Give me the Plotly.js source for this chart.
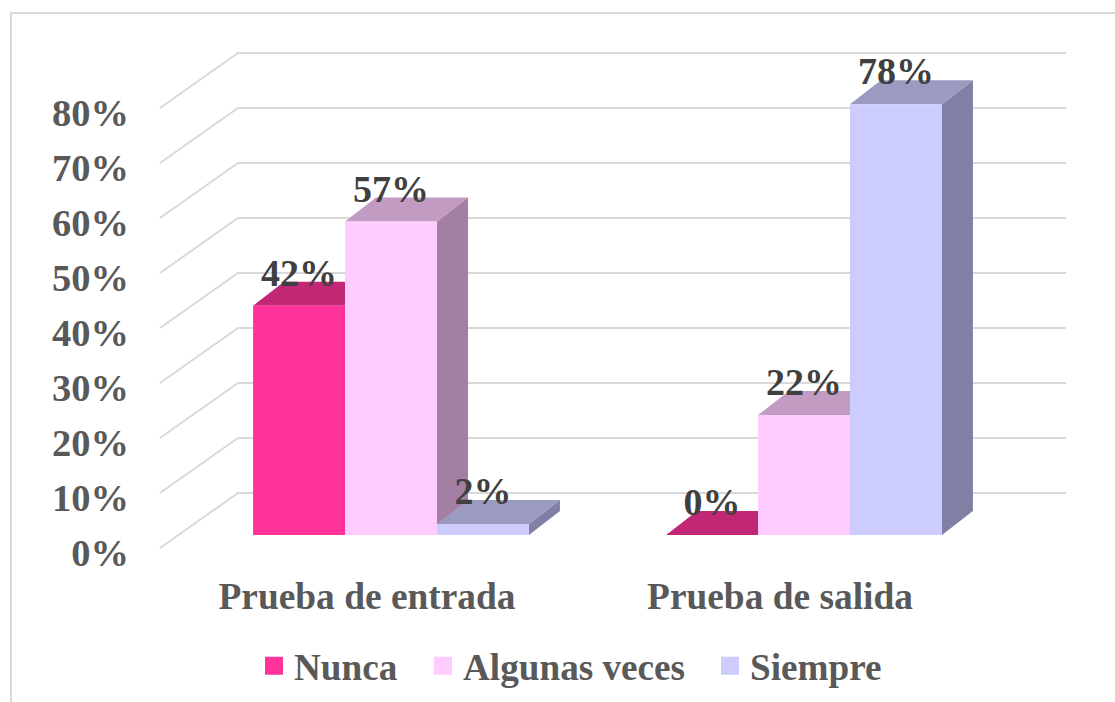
<!DOCTYPE html>
<html>
<head>
<meta charset="utf-8">
<script src="https://cdn.plot.ly/plotly-3.0.1.min.js"></script>
<style>html,body{margin:0;padding:0;background:#fff;overflow:hidden}</style>
</head>
<body>
<div id="chart" style="width:1115px;height:702px"></div>
<script>
var categories = ["Prueba de entrada", "Prueba de salida"];
var seriesNames = ["Nunca", "Algunas veces", "Siempre"];
var nunca = [41.7, 0];
var algunasVeces = [57, 21.8];
var siempre = [2, 78.3];
var yTicks = [0, 10, 20, 30, 40, 50, 60, 70, 80];

var seriesValues = [nunca, algunasVeces, siempre];
var frontColors = ["#FF3399", "#FFCCFF", "#CCCCFF"];
var topColors = ["#C22775", "#C29BC2", "#9B9BC2"];
var sideColors = ["#A51F63", "#A47FA4", "#8080A4"];
var groupPos = [1, 2];

// page geometry of the plot area
var PW = 1115, PH = 702;
var L = 140, R = 1100, T = 40, B = 560;
var pxPerGroup = 413, pxPerPct = 5.5;
var xRange = [1 + (L - 391) / pxPerGroup, 1 + (R - 391) / pxPerGroup];
var yRange = [(535 - B) / pxPerPct, (535 - T) / pxPerPct];
var labelYRange = [(553 - B) / pxPerPct, (553 - T) / pxPerPct];
var labelShift = 24 / pxPerGroup;
var bargap = 0.332, barW = (1 - bargap) / 3;
var depthX = 31 / pxPerGroup, depthY = 24 / pxPerPct;
var wallLeftFront = 1 + (160 - 391) / pxPerGroup, wallLeftBack = 1 + (238 - 391) / pxPerGroup;
var wallRight = 1 + (1066 - 391) / pxPerGroup;
var floorFront = (535 - 548) / pxPerPct, floorBack = (535 - 493) / pxPerPct;
var gridColor = "#D9D9D9";
var fontFam = '"Liberation Serif","Times New Roman",serif';

function px(x) { return x / PW; }
function py(y) { return (PH - y) / PH; }

var shapes = [];
// outer frame
shapes.push({type: "path", xref: "paper", yref: "paper", layer: "below",
  path: "M" + px(11) + "," + py(702) + "L" + px(11) + "," + py(13) + "L" + px(1115) + "," + py(13),
  line: {color: "#D9D9D9", width: 2}});
// wall gridlines
yTicks.forEach(function (v) {
  var yF = v + floorFront, yB = v + floorBack;
  shapes.push({type: "path", xref: "x", yref: "y", layer: "below",
    path: "M" + wallLeftFront + "," + yF + "L" + wallLeftBack + "," + yB + "L" + wallRight + "," + yB,
    line: {color: gridColor, width: 2}});
});
// 3D faces of each bar
seriesValues.forEach(function (vals, s) {
  vals.forEach(function (v, g) {
    var x0 = groupPos[g] - 1.5 * barW + s * barW, x1 = x0 + barW;
    shapes.push({type: "path", xref: "x", yref: "y", layer: "below", fillcolor: sideColors[s], line: {width: 0},
      path: "M" + x1 + ",0L" + (x1 + depthX) + "," + depthY + "L" + (x1 + depthX) + "," + (v + depthY) + "L" + x1 + "," + v + "Z"});
    shapes.push({type: "path", xref: "x", yref: "y", layer: "below", fillcolor: topColors[s], line: {width: 0},
      path: "M" + x0 + "," + v + "L" + (x0 + depthX) + "," + (v + depthY) + "L" + (x1 + depthX) + "," + (v + depthY) + "L" + x1 + "," + v + "Z"});
  });
});

var traces = [];
seriesValues.forEach(function (vals, s) {
  traces.push({type: "bar", x: groupPos, y: vals, name: seriesNames[s], legendgroup: seriesNames[s], showlegend: false,
    marker: {color: frontColors[s], line: {width: 0}}, hoverinfo: "skip"});
});
// legend entries
["legend", "legend2", "legend3"].forEach(function (lg, s) {
  traces.push({type: "scatter", mode: "markers", x: [null], y: [null], name: seriesNames[s], legendgroup: seriesNames[s],
    legend: lg, showlegend: true, marker: {symbol: "square", size: 16, color: frontColors[s], line: {color: frontColors[s], width: 2}}});
});
// data labels
var labelX = [], labelY = [], labelText = [];
seriesValues.forEach(function (vals, s) {
  vals.forEach(function (v, g) {
    labelX.push(groupPos[g] - barW + s * barW);
    labelY.push(v + 29.5 / pxPerPct);
    labelText.push(Math.round(v) + "%");
  });
});
traces.push({type: "scatter", mode: "text", x: labelX, y: labelY, text: labelText, textposition: "middle center",
  textfont: {family: fontFam, size: 38, color: "#404040", weight: 700}, showlegend: false, hoverinfo: "skip", cliponaxis: false});
// axis carriers for the tick labels
traces.push({type: "scatter", mode: "none", x: [1], y: [0], xaxis: "x2", yaxis: "y2", showlegend: false, hoverinfo: "skip"});

var legendText = {family: fontFam, size: 37.2, color: "#595959", weight: 700};
function legendAt(xp) {
  return {orientation: "h", x: px(xp), xanchor: "left", y: py(635), yanchor: "top", font: legendText,
    bgcolor: "rgba(0,0,0,0)", borderwidth: 0, itemclick: false, itemdoubleclick: false};
}
var xDom = [L / PW, R / PW], yDom = [(PH - B) / PH, (PH - T) / PH];

var layout = {
  width: PW, height: PH, autosize: false,
  margin: {l: 0, r: 0, t: 0, b: 0, pad: 0},
  paper_bgcolor: "#fff", plot_bgcolor: "rgba(0,0,0,0)",
  barmode: "group", bargap: bargap, bargroupgap: 0,
  xaxis: {domain: xDom, range: xRange, visible: false, fixedrange: true},
  yaxis: {domain: yDom, range: yRange, visible: false, fixedrange: true},
  xaxis2: {domain: xDom, overlaying: "x", anchor: "y2", side: "bottom", range: [xRange[0] + labelShift, xRange[1] + labelShift],
    tickmode: "array", tickvals: groupPos, ticktext: categories, showgrid: false, zeroline: false, showline: false,
    ticks: "", ticklabelstandoff: 11, tickfont: {family: fontFam, size: 37.4, color: "#595959", weight: 700}, fixedrange: true},
  yaxis2: {domain: yDom, overlaying: "y", anchor: "x2", side: "left", range: labelYRange,
    tickmode: "array", tickvals: yTicks, ticktext: yTicks.map(function (v) { return v + "%"; }),
    showgrid: false, zeroline: false, showline: false, ticks: "", ticklabelstandoff: 10,
    tickfont: {family: fontFam, size: 38.5, color: "#595959", weight: 700}, fixedrange: true},
  legend: legendAt(254), legend2: legendAt(423), legend3: legendAt(710),
  shapes: shapes,
  showlegend: true
};
Plotly.newPlot("chart", traces, layout, {displayModeBar: false, responsive: false});
</script>
</body>
</html>
